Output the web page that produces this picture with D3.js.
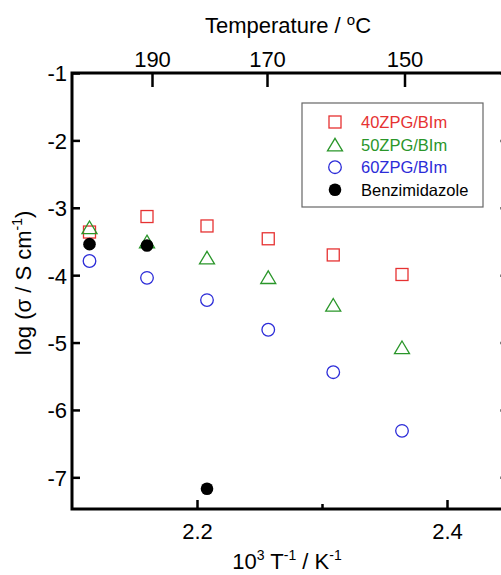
<!DOCTYPE html>
<html>
<head>
	<meta charset="utf-8">
	<script src="https://cdn.jsdelivr.net/npm/d3@7/dist/d3.min.js"></script>
	<style>
		body { margin: 0; background: white; }
		text { font-family: Arial, "Liberation Sans", sans-serif; }
	</style>
</head>
<body>
	<script>
		// data (x = 10^3 / T)
		var xVals = [2.114, 2.160, 2.208, 2.257, 2.309, 2.364];
		var zpg40 = [-3.36, -3.13, -3.27, -3.46, -3.70, -3.99];
		var zpg50 = [-3.29, -3.50, -3.74, -4.03, -4.44, -5.07];
		var zpg60 = [-3.79, -4.04, -4.37, -4.81, -5.44, -6.31];
		var bimX = [2.114, 2.160, 2.208];
		var bimVals = [-3.54, -3.56, -7.17];

		var yTicks = [-1, -2, -3, -4, -5, -6, -7];
		var xTicks = [2.2, 2.4];
		var xMinor = [2.3];
		var tempLabels = [190, 170, 150];
		var tempPos = [2.164, 2.256, 2.366];

		var legendNames = ["40ZPG/BIm", "50ZPG/BIm", "60ZPG/BIm", "Benzimidazole"];

		var width = 501, height = 575;
		var red = "#e63232", green = "#2a962a", blue = "#2c2cd8";

		var svg = d3.select("body").append("svg")
			.attr("width", width)
			.attr("height", height);

		var x = d3.scaleLinear().domain([2.1, 2.45]).range([72, 509.5]);
		var y = d3.scaleLinear().domain([-1, -7.47]).range([73, 509]);

		function styleAxis(g) {
			g.select(".domain").remove();
			g.selectAll("line").attr("stroke", "#000").attr("stroke-width", 2.5);
			g.selectAll("text").style("font-size", "22px").attr("fill", "#000");
		}

		// bottom axis
		svg.append("g")
			.attr("transform", "translate(0," + y.range()[1] + ")")
			.call(d3.axisBottom(x).tickValues(xTicks).tickSize(-9).tickFormat(d3.format(".1f")))
			.call(styleAxis)
			.call(function(g) { g.selectAll("text").attr("y", 30).attr("dy", 0); });

		svg.append("g")
			.attr("transform", "translate(0," + y.range()[1] + ")")
			.call(d3.axisBottom(x).tickValues(xMinor).tickSize(-5).tickFormat(""))
			.call(styleAxis);

		// top axis (temperature)
		svg.append("g")
			.attr("transform", "translate(0," + y.range()[0] + ")")
			.call(d3.axisTop(x).tickValues(tempPos).tickSize(-14)
				.tickFormat(function(d, i) { return tempLabels[i]; }))
			.call(styleAxis)
			.call(function(g) { g.selectAll("text").attr("y", -6).attr("dy", 0); });

		// left axis
		svg.append("g")
			.attr("transform", "translate(" + x.range()[0] + ",0)")
			.call(d3.axisLeft(y).tickValues(yTicks).tickSize(-8).tickFormat(function(d) { return String(d); }))
			.call(styleAxis)
			.call(function(g) { g.selectAll("text").attr("x", -5).attr("dy", "0.36em"); });

		// right axis, mostly outside the picture
		svg.append("g")
			.attr("transform", "translate(" + x.range()[1] + ",0)")
			.call(d3.axisRight(y).tickValues(yTicks).tickSize(-9).tickFormat(""))
			.call(styleAxis);

		// frame
		svg.append("rect")
			.attr("x", x.range()[0])
			.attr("y", y.range()[0])
			.attr("width", x.range()[1] - x.range()[0])
			.attr("height", y.range()[1] - y.range()[0])
			.attr("fill", "none")
			.attr("stroke", "#000")
			.attr("stroke-width", 3);

		// markers
		var tri = "M0,-6.3L7.5,6.3L-7.5,6.3Z";

		svg.append("g").selectAll("rect")
			.data(zpg40)
			.join("rect")
			.attr("x", function(d, i) { return x(xVals[i]) - 6; })
			.attr("y", function(d) { return y(d) - 6; })
			.attr("width", 12)
			.attr("height", 12)
			.attr("fill", "none")
			.attr("stroke", red)
			.attr("stroke-width", 1.3);

		svg.append("g").selectAll("path")
			.data(zpg50)
			.join("path")
			.attr("d", tri)
			.attr("transform", function(d, i) { return "translate(" + x(xVals[i]) + "," + y(d) + ")"; })
			.attr("fill", "none")
			.attr("stroke", green)
			.attr("stroke-width", 1.3);

		svg.append("g").selectAll("circle")
			.data(zpg60)
			.join("circle")
			.attr("cx", function(d, i) { return x(xVals[i]); })
			.attr("cy", function(d) { return y(d); })
			.attr("r", 6.3)
			.attr("fill", "none")
			.attr("stroke", blue)
			.attr("stroke-width", 1.3);

		svg.append("g").selectAll("circle")
			.data(bimVals)
			.join("circle")
			.attr("cx", function(d, i) { return x(bimX[i]); })
			.attr("cy", function(d) { return y(d); })
			.attr("r", 6.3)
			.attr("fill", "#000");

		// legend
		var lg = svg.append("g");
		lg.append("rect")
			.attr("x", 302).attr("y", 103)
			.attr("width", 181).attr("height", 104)
			.attr("fill", "white")
			.attr("stroke", "#666")
			.attr("stroke-width", 1.2);

		var legendColors = [red, green, blue, "#000"];
		legendNames.forEach(function(name, i) {
			var cy = 122 + i * 22.6;
			if (i == 0) {
				lg.append("rect").attr("x", 329).attr("y", cy - 6).attr("width", 12).attr("height", 12)
					.attr("fill", "none").attr("stroke", red).attr("stroke-width", 1.3);
			} else if (i == 1) {
				lg.append("path").attr("d", tri).attr("transform", "translate(335," + cy + ")")
					.attr("fill", "none").attr("stroke", green).attr("stroke-width", 1.3);
			} else if (i == 2) {
				lg.append("circle").attr("cx", 335).attr("cy", cy).attr("r", 6.3)
					.attr("fill", "none").attr("stroke", blue).attr("stroke-width", 1.3);
			} else {
				lg.append("circle").attr("cx", 335).attr("cy", cy).attr("r", 6.3).attr("fill", "#000");
			}
			lg.append("text")
				.attr("x", 361)
				.attr("y", cy + 6)
				.style("font-size", "16.5px")
				.attr("fill", legendColors[i])
				.text(name);
		});

		// titles
		var topTitle = svg.append("text")
			.attr("x", 288).attr("y", 33)
			.attr("text-anchor", "middle")
			.style("font-size", "22px");
		topTitle.append("tspan").text("Temperature / ");
		topTitle.append("tspan").attr("dy", -8).style("font-size", "15px").text("o");
		topTitle.append("tspan").attr("dy", 8).text("C");

		var xl = svg.append("text")
			.attr("x", 287).attr("y", 569)
			.attr("text-anchor", "middle")
			.style("font-size", "22px");
		xl.append("tspan").text("10");
		xl.append("tspan").attr("dy", -9).style("font-size", "14px").text("3");
		xl.append("tspan").attr("dy", 9).text(" T");
		xl.append("tspan").attr("dy", -9).style("font-size", "14px").text("-1");
		xl.append("tspan").attr("dy", 9).text(" / K");
		xl.append("tspan").attr("dy", -9).style("font-size", "14px").text("-1");

		var yl = svg.append("text")
			.attr("transform", "translate(31,283) rotate(-90)")
			.attr("text-anchor", "middle")
			.style("font-size", "22px");
		yl.append("tspan").text("log (\u03c3 / S cm");
		yl.append("tspan").attr("dy", -9).style("font-size", "14px").text("-1");
		yl.append("tspan").attr("dy", 9).text(")");
	</script>
</body>
</html>
